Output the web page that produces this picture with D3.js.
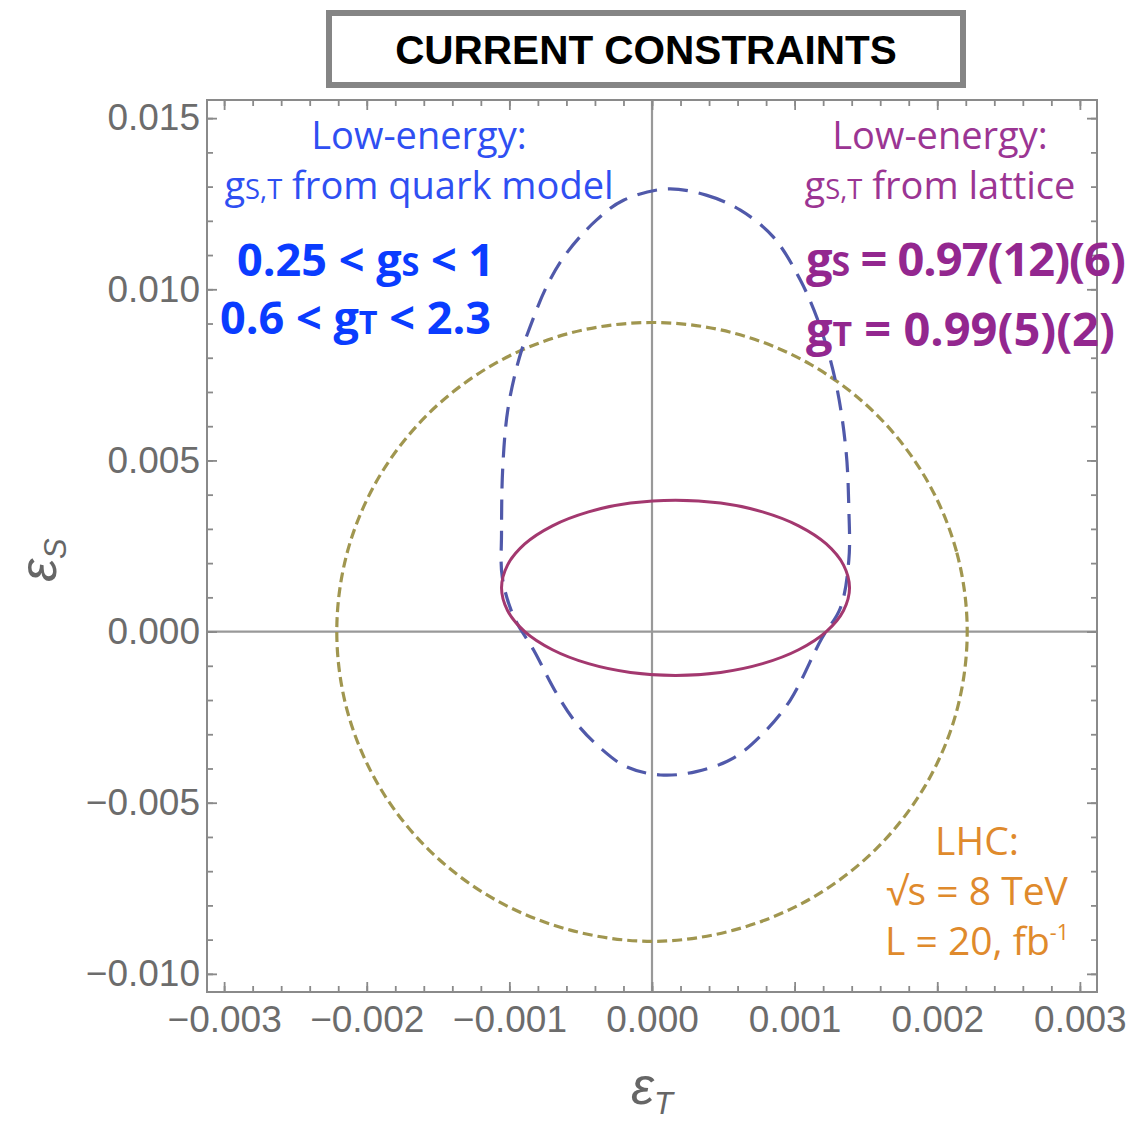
<!DOCTYPE html>
<html>
<head>
<meta charset="utf-8">
<script src="https://cdn.jsdelivr.net/npm/d3@7"></script>
<style>
  body { margin: 0; background: #fff; }
</style>
</head>
<body>
<div id="chart"></div>
<script>
// tick values (major)
const xTicks = [-0.003, -0.002, -0.001, 0, 0.001, 0.002, 0.003];
const yTicks = [-0.010, -0.005, 0, 0.005, 0.010, 0.015];

// curves, in units of 1e-3  [epsT, epsS]
// LHC bound (olive, short dashes)
const lhcCurve = [
  [2.21, 0], [2.135, 2.339], [1.914, 4.515], [1.563, 6.384], [1.105, 7.82], [0.572, 8.723],
  [0, 9.03], [-0.572, 8.723], [-1.105, 7.82], [-1.563, 6.384], [-1.914, 4.515], [-2.135, 2.339],
  [-2.21, 0], [-2.135, -2.339], [-1.914, -4.515], [-1.563, -6.384], [-1.105, -7.82], [-0.572, -8.723],
  [0, -9.05], [0.572, -8.723], [1.105, -7.82], [1.563, -6.384], [1.914, -4.515], [2.135, -2.339]
];
// low energy, quark model (blue, long dashes)
const quarkCurve = [
  [0.10, 12.93], [0.38, 12.75], [0.62, 12.31], [0.85, 11.53], [1.04, 10.27], [1.18, 8.90],
  [1.29, 7.25], [1.36, 5.30], [1.38, 3.60], [1.38, 2.09], [1.32, 0.68], [1.19, -0.20],
  [0.97, -2.00], [0.78, -2.97], [0.57, -3.70], [0.31, -4.09], [0.06, -4.19], [-0.18, -3.95],
  [-0.36, -3.41], [-0.53, -2.68], [-0.67, -1.80], [-0.83, -0.54], [-0.97, 0.44], [-1.05, 1.60],
  [-1.055, 2.88], [-1.046, 4.82], [-1.01, 6.50], [-0.93, 8.00], [-0.855, 8.90], [-0.74, 10.07],
  [-0.60, 11.05], [-0.39, 12.02], [-0.20, 12.60]
];
// low energy, lattice (magenta, solid)
const latticeCurve = [
  [1.385, 1.28], [1.343, 1.943], [1.222, 2.56], [1.028, 3.09], [0.775, 3.497], [0.481, 3.753],
  [0.165, 3.84], [-0.151, 3.753], [-0.445, 3.497], [-0.698, 3.09], [-0.892, 2.56], [-1.013, 1.943],
  [-1.055, 1.28], [-1.013, 0.617], [-0.892, 0.0], [-0.698, -0.53], [-0.445, -0.937], [-0.151, -1.193],
  [0.165, -1.28], [0.481, -1.193], [0.775, -0.937], [1.028, -0.53], [1.222, 0.0], [1.343, 0.617]
];

// text blocks: each line is a list of [text, style] pieces
const quarkLabel = [
  [["Low-energy:", ""]],
  [["g", ""], ["S,T", "sc"], [" from quark model", ""]]
];
const quarkRange = [
  [["0.25 < g", ""], ["S", "sc"], [" < 1", ""]],
  [["0.6 < g", ""], ["T", "sc"], [" < 2.3", ""]]
];
const latticeLabel = [
  [["Low-energy:", ""]],
  [["g", ""], ["S,T", "sc"], [" from lattice", ""]]
];
const latticeValues = [
  [["g", ""], ["S", "sc"], [" = 0.97(12)(6)", ""]],
  [["g", ""], ["T", "sc"], [" = 0.99(5)(2)", ""]]
];
const lhcLabel = [
  [["LHC:", ""]],
  [["\u221As = 8 TeV", ""]],
  [["L = 20, fb", ""], ["-1", "sup"]]
];

const W = 1132, H = 1125;
const svg = d3.select("#chart").append("svg")
  .attr("width", W).attr("height", H)
  .style("font-family", "'Liberation Sans', Arial, sans-serif");

svg.append("rect").attr("width", W).attr("height", H).attr("fill", "#fff");

const x = d3.scaleLinear().domain([-0.00312, 0.00312]).range([207, 1097]);
const y = d3.scaleLinear().domain([-0.01053, 0.01553]).range([992, 100]);

const xMinor = d3.range(-30, 31).map(d => d * 0.0002).filter(d => d >= x.domain()[0] && d <= x.domain()[1]);
const yMinor = d3.range(-11, 16).map(d => d * 0.001).filter(d => d >= y.domain()[0] && d <= y.domain()[1]);

const fmt = d3.format(".3f");
const frameColor = "#8a8a8a";
const labelColor = "#6c6c6c";

// zero lines
svg.append("line").attr("x1", x(0)).attr("x2", x(0)).attr("y1", y.range()[1]).attr("y2", y.range()[0])
  .attr("stroke", "#999").attr("stroke-width", 2.2);
svg.append("line").attr("x1", x.range()[0]).attr("x2", x.range()[1]).attr("y1", y(0)).attr("y2", y(0))
  .attr("stroke", "#999").attr("stroke-width", 2.2);

// axes: major ticks with labels, minor ticks without, on all four sides, inward
function styleAxis(g) {
  g.select(".domain").remove();
  g.selectAll(".tick line").attr("stroke", frameColor).attr("stroke-width", 1.8);
  g.selectAll(".tick text").attr("fill", labelColor).style("font-size", "37px")
    .style("font-family", "'Liberation Sans', Arial, sans-serif");
}

svg.append("g").attr("transform", `translate(0,${y.range()[0]})`)
  .call(d3.axisBottom(x).tickValues(xTicks).tickFormat(fmt).tickSize(-10).tickPadding(14)).call(styleAxis);
svg.append("g").attr("transform", `translate(0,${y.range()[0]})`)
  .call(d3.axisBottom(x).tickValues(xMinor).tickFormat("").tickSize(-6)).call(styleAxis);
svg.append("g").attr("transform", `translate(0,${y.range()[1]})`)
  .call(d3.axisTop(x).tickValues(xTicks).tickFormat("").tickSize(-10)).call(styleAxis);
svg.append("g").attr("transform", `translate(0,${y.range()[1]})`)
  .call(d3.axisTop(x).tickValues(xMinor).tickFormat("").tickSize(-6)).call(styleAxis);

svg.append("g").attr("transform", `translate(${x.range()[0]},0)`)
  .call(d3.axisLeft(y).tickValues(yTicks).tickFormat(fmt).tickSize(-10).tickPadding(7)).call(styleAxis);
svg.append("g").attr("transform", `translate(${x.range()[0]},0)`)
  .call(d3.axisLeft(y).tickValues(yMinor).tickFormat("").tickSize(-6)).call(styleAxis);
svg.append("g").attr("transform", `translate(${x.range()[1]},0)`)
  .call(d3.axisRight(y).tickValues(yTicks).tickFormat("").tickSize(-10)).call(styleAxis);
svg.append("g").attr("transform", `translate(${x.range()[1]},0)`)
  .call(d3.axisRight(y).tickValues(yMinor).tickFormat("").tickSize(-6)).call(styleAxis);

// frame
svg.append("rect")
  .attr("x", x.range()[0]).attr("y", y.range()[1])
  .attr("width", x.range()[1] - x.range()[0]).attr("height", y.range()[0] - y.range()[1])
  .attr("fill", "none").attr("stroke", frameColor).attr("stroke-width", 2);

// curves
const line = d3.line()
  .x(d => x(d[0] / 1000))
  .y(d => y(d[1] / 1000))
  .curve(d3.curveCatmullRomClosed);

svg.append("path").datum(lhcCurve).attr("d", line)
  .attr("fill", "none").attr("stroke", "#a0964f").attr("stroke-width", 3.2).attr("stroke-dasharray", "10,5");
svg.append("path").datum(quarkCurve).attr("d", line)
  .attr("fill", "none").attr("stroke", "#5059aa").attr("stroke-width", 3.2).attr("stroke-dasharray", "20,11");
svg.append("path").datum(latticeCurve).attr("d", line)
  .attr("fill", "none").attr("stroke", "#a3386f").attr("stroke-width", 3);

// annotation text
function addText(lines, opts) {
  const t = svg.append("g")
    .style("font-family", "'Open Sans', 'Noto Sans', sans-serif")
    .attr("fill", opts.color);
  lines.forEach((pieces, i) => {
    const txt = t.append("text")
      .attr("x", (opts.xs && opts.xs[i]) || opts.x).attr("y", opts.y + i * opts.dy)
      .attr("text-anchor", opts.anchor)
      .style("font-size", opts.size + "px")
      .style("font-weight", opts.weight || "normal")
      .style("letter-spacing", (opts.ls && opts.ls[i]) || 0)
      .attr("xml:space", "preserve");
    pieces.forEach(p => {
      const s = txt.append("tspan").text(p[0]);
      if (p[1] === "sc") s.style("font-size", (opts.size * 0.72) + "px");
      if (p[1] === "sup") s.style("font-size", (opts.size * 0.55) + "px").attr("dy", -opts.size * 0.38);
    });
  });
}

addText(quarkLabel, { x: 419, y: 149, dy: 50, size: 38, anchor: "middle", color: "#2f4ff2" });
addText(quarkRange, { xs: [237, 220], y: 276, dy: 58, size: 45, anchor: "start", weight: "bold", color: "#0a3cff" });
addText(latticeLabel, { x: 940, y: 149, dy: 50, size: 38, anchor: "middle", color: "#9b3593" });
addText(latticeValues, { x: 806, y: 276, dy: 70, size: 47, anchor: "start", weight: "bold", color: "#93278f",
  ls: ["-1px", "0px"] });
addText(lhcLabel, { x: 977, y: 855, dy: 50, size: 39, anchor: "middle", color: "#df8a2c" });

// axis titles
const xt = svg.append("text").attr("x", 652).attr("y", 1104).attr("text-anchor", "middle")
  .attr("fill", "#666").style("font-style", "italic");
xt.append("tspan").text("\u03B5").style("font-size", "52px");
xt.append("tspan").text("T").style("font-size", "31px").attr("dy", 10);

const yt = svg.append("text").attr("transform", "translate(56,560) rotate(-90)").attr("text-anchor", "middle")
  .attr("fill", "#666").style("font-style", "italic");
yt.append("tspan").text("\u03B5").style("font-size", "52px");
yt.append("tspan").text("S").style("font-size", "31px").attr("dy", 10);

// title box
svg.append("rect").attr("x", 329).attr("y", 13).attr("width", 634).attr("height", 72)
  .attr("fill", "#fff").attr("stroke", "#858585").attr("stroke-width", 6);
svg.append("text").attr("x", 646).attr("y", 64).attr("text-anchor", "middle")
  .style("font-size", "40.5px").style("font-weight", "bold").attr("fill", "#000")
  .text("CURRENT CONSTRAINTS");
</script>
</body>
</html>
